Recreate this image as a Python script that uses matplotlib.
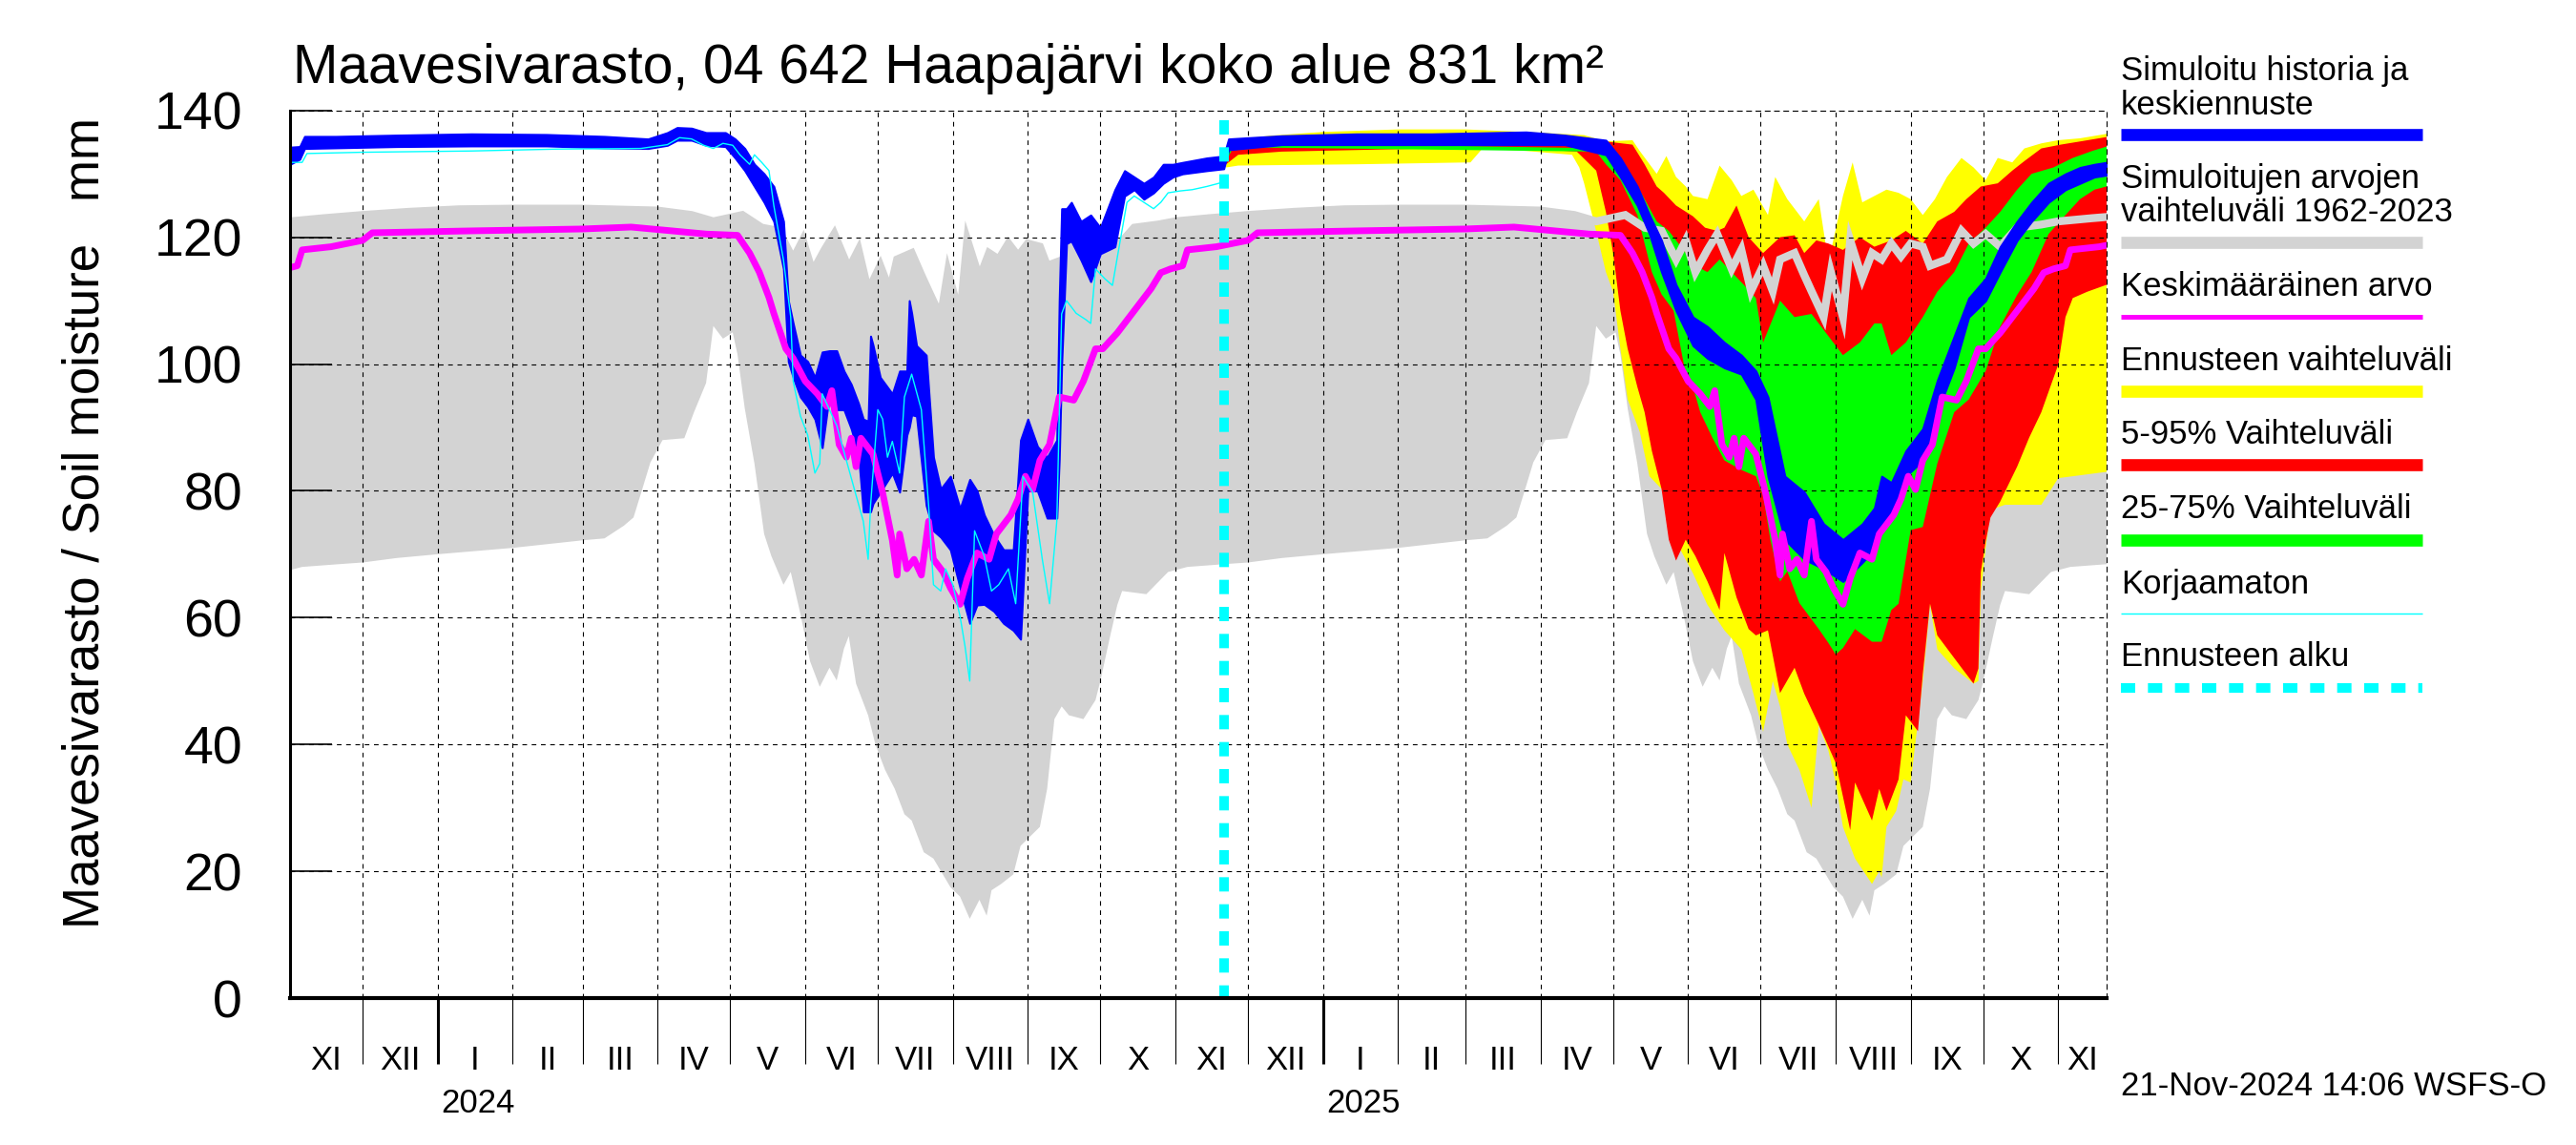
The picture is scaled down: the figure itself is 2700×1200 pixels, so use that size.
import matplotlib
matplotlib.use('Agg')
import matplotlib.pyplot as plt
import matplotlib.dates as mdates
import matplotlib.transforms as mtrans
from matplotlib.lines import Line2D
import numpy as np
import pandas as pd

plt.rcParams['font.family'] = ['Liberation Sans', 'DejaVu Sans']
plt.rcParams['lines.scale_dashes'] = False

# ---------------- texts ----------------
TITLE = 'Maavesivarasto, 04 642 Haapajärvi koko alue 831 km²'
YLABEL = 'Maavesivarasto / Soil moisture   mm'
STAMP = '21-Nov-2024 14:06 WSFS-O'
ROMAN = ['I', 'II', 'III', 'IV', 'V', 'VI', 'VII', 'VIII', 'IX', 'X', 'XI', 'XII']
X_START, X_END = '2023-11-01', '2025-11-21'
FORECAST_START = '2024-11-21'
Y_TICKS = [0, 20, 40, 60, 80, 100, 120, 140]
SEASONS = [2023, 2024, 2025]

# ---------------- climatology 1962-2023 (by month-day) ----------------
GRAY_LO_MD = ['11-01', '11-06', '11-20', '12-01', '12-15', '01-01', '02-01', '03-01', '03-10', '03-18',
              '03-22', '03-25', '03-29', '04-03', '04-12', '04-16', '04-21', '04-24', '04-28', '05-02',
              '05-04', '05-07', '05-11', '05-15', '05-18', '05-23', '05-26', '05-30', '06-03', '06-07',
              '06-11', '06-14', '06-17', '06-19', '06-22', '06-27', '06-30', '07-04', '07-08', '07-12',
              '07-15', '07-20', '07-24', '07-31', '08-04', '08-08', '08-12', '08-15', '08-17', '08-21',
              '08-26', '08-29', '09-02', '09-06', '09-09', '09-12', '09-15', '09-18', '09-24', '09-29',
              '10-01', '10-05', '10-08', '10-10', '10-20', '10-29']
GRAY_LO_V = [67.5, 68.0, 68.4, 68.7, 69.4, 70.0, 71.0, 72.2, 72.5, 74.5,
             75.8, 79.5, 84.5, 88.0, 88.3, 92.4, 97.0, 106.0, 104.0, 105.0,
             101.5, 93.0, 84.3, 73.2, 69.7, 65.2, 67.2, 60.6, 53.1, 49.1,
             52.1, 50.1, 55.1, 57.1, 49.6, 44.6, 40.0, 36.0, 33.0, 29.0,
             28.0, 23.0, 22.0, 17.5, 16.0, 12.5, 15.5, 13.0, 17.0, 18.0,
             19.5, 24.0, 25.5, 27.0, 33.0, 44.0, 46.0, 44.6, 44.0, 47.0,
             50.0, 57.0, 62.0, 64.2, 63.7, 67.2]

GRAY_HI_MD = ['11-01', '11-15', '12-01', '12-20', '01-10', '02-01', '03-01', '04-01', '04-15', '04-24',
              '05-06', '05-14', '05-21', '05-27', '05-31', '06-04', '06-09', '06-13', '06-19', '06-23',
              '06-27', '07-02', '07-06', '07-09', '07-15', '07-19', '07-22', '07-27', '07-30', '08-04',
              '08-07', '08-12', '08-16', '08-20', '08-24', '08-28', '09-01', '09-06', '09-09', '09-16',
              '09-22', '09-27', '10-02', '10-08', '10-15', '10-25']
GRAY_HI_V = [122.5, 123.0, 123.5, 124.0, 124.4, 124.5, 124.5, 124.2, 123.5, 122.5,
             123.5, 121.5, 121.0, 116.5, 119.5, 114.5, 118.0, 120.5, 115.0, 118.0,
             111.5, 115.5, 111.5, 116.5, 117.5, 114.0, 111.5, 107.4, 114.5, 107.4,
             119.5, 113.5, 117.5, 116.5, 119.0, 117.0, 119.0, 118.5, 115.5, 116.5,
             121.0, 119.0, 120.5, 118.5, 121.5, 122.0]

MEAN_MD = ['11-01', '11-04', '11-06', '11-18', '12-01', '12-05', '01-15', '03-01', '03-21', '04-21',
           '05-04', '05-09', '05-13', '05-17', '05-19', '05-24', '05-27', '06-01', '06-06', '06-10',
           '06-12', '06-15', '06-18', '06-20', '06-22', '06-24', '06-29', '07-03', '07-07', '07-09',
           '07-10', '07-13', '07-16', '07-19', '07-22', '07-24', '07-28', '07-31', '08-04', '08-07',
           '08-11', '08-16', '08-19', '08-25', '08-28', '08-31', '09-03', '09-06', '09-10', '09-14',
           '09-20', '09-24', '09-29', '10-02', '10-08', '10-15', '10-22', '10-26', '10-30']
MEAN_V = [115.2, 115.5, 118.0, 118.5, 119.5, 120.7, 121.0, 121.3, 121.6, 120.5,
          120.3, 117.5, 114.5, 110.5, 108.0, 102.4, 100.9, 97.3, 95.3, 93.3,
          95.8, 87.3, 85.3, 88.3, 83.8, 88.3, 85.8, 79.7, 72.2, 66.7,
          73.2, 67.7, 69.2, 66.7, 75.2, 69.2, 67.2, 64.7, 62.1, 66.2,
          70.2, 69.2, 73.2, 76.2, 78.7, 82.3, 80.2, 84.8, 87.3, 94.8,
          94.3, 97.3, 102.4, 102.4, 104.9, 108.4, 111.9, 114.4, 115.0]

# ---------------- simulated history + median forecast (band) ----------------
BLUE_D = ['2023-11-01', '2023-11-05', '2023-11-07', '2023-11-20', '2023-12-15', '2024-01-15', '2024-02-15',
          '2024-03-10', '2024-03-28', '2024-04-05', '2024-04-09', '2024-04-15', '2024-04-21', '2024-04-29',
          '2024-05-03', '2024-05-07', '2024-05-11', '2024-05-15', '2024-05-19', '2024-05-23', '2024-05-25',
          '2024-05-27', '2024-05-30', '2024-06-02', '2024-06-05', '2024-06-08', '2024-06-11', '2024-06-14',
          '2024-06-17', '2024-06-20', '2024-06-23', '2024-06-25', '2024-06-27', '2024-06-28', '2024-06-29',
          '2024-07-02', '2024-07-07', '2024-07-10', '2024-07-13', '2024-07-14', '2024-07-15', '2024-07-17',
          '2024-07-21', '2024-07-24', '2024-07-27', '2024-07-31', '2024-08-04', '2024-08-08', '2024-08-11',
          '2024-08-14', '2024-08-18', '2024-08-22', '2024-08-26', '2024-08-29', '2024-09-01', '2024-09-05',
          '2024-09-09', '2024-09-13', '2024-09-14', '2024-09-15', '2024-09-17', '2024-09-19', '2024-09-23',
          '2024-09-27', '2024-10-01', '2024-10-07', '2024-10-11', '2024-10-15', '2024-10-19', '2024-10-23',
          '2024-10-27', '2024-10-31', '2024-11-04', '2024-11-14', '2024-11-21', '2024-11-23',
          '2024-12-15', '2025-01-15', '2025-02-15', '2025-03-26', '2025-04-11', '2025-04-28', '2025-05-04',
          '2025-05-11', '2025-05-16', '2025-05-21', '2025-05-27', '2025-06-03', '2025-06-09', '2025-06-16',
          '2025-06-23', '2025-06-29', '2025-07-04', '2025-07-11', '2025-07-19', '2025-07-27', '2025-08-04',
          '2025-08-12', '2025-08-17', '2025-08-20', '2025-08-24', '2025-08-30', '2025-09-06', '2025-09-12',
          '2025-09-19', '2025-09-25', '2025-10-02', '2025-10-08', '2025-10-15', '2025-10-21', '2025-10-28',
          '2025-11-04', '2025-11-10', '2025-11-16', '2025-11-21']
BLUE_LO = [131.5, 132.3, 134.0, 134.1, 134.3, 134.4, 134.4,
           134.1, 134.0, 134.5, 135.3, 135.3, 134.5, 134.3,
           132.5, 130.5, 128.0, 125.5, 122.5, 115.0, 100.4,
           97.9, 94.8, 93.3, 91.3, 86.8, 95.3, 92.8,
           92.8, 89.8, 85.8, 76.7, 76.7, 76.7, 78.0,
           79.8, 82.8, 79.8, 88.8, 90.0, 92.0, 91.8,
           77.7, 73.7, 72.7, 70.7, 64.7, 59.1, 62.0,
           62.1, 61.0, 59.1, 58.0, 56.6, 80.0, 80.0,
           75.7, 75.7, 85.0, 100.0, 119.0, 119.4, 116.4,
           113.0, 117.4, 118.5, 126.5, 127.5, 126.0, 127.0,
           128.5, 129.5, 130.0, 130.5, 130.8, 133.8,
           134.6, 134.6, 134.6, 134.6, 134.6, 133.0, 129.5,
           125.0, 120.5, 114.5, 108.4, 102.9, 100.9, 99.4,
           98.4, 94.4, 82.3, 72.3, 69.2, 67.7, 65.7,
           68.7, 70.7, 74.8, 75.8, 82.3, 84.8, 92.4,
           99.4, 107.4, 110.0, 114.5, 119.5, 122.5, 125.5,
           127.5, 128.5, 129.5, 129.8]
BLUE_HI = [134.2, 134.3, 135.9, 135.9, 136.1, 136.3, 136.2,
           135.9, 135.5, 136.5, 137.3, 137.2, 136.5, 136.5,
           135.5, 134.0, 131.5, 130.0, 128.0, 122.5, 110.0,
           106.4, 101.4, 100.4, 97.9, 101.9, 102.1, 102.1,
           98.9, 96.8, 93.8, 91.3, 91.0, 104.4, 103.0,
           97.9, 95.3, 98.9, 98.9, 110.0, 108.0, 102.9,
           101.4, 85.3, 80.3, 82.3, 77.2, 81.8, 80.0,
           76.2, 73.0, 70.7, 70.7, 88.0, 91.3, 87.0,
           85.3, 88.0, 110.0, 124.5, 124.5, 125.5, 122.5,
           123.5, 121.5, 127.5, 130.5, 129.5, 128.5, 129.5,
           131.5, 131.5, 131.8, 132.5, 132.8, 135.5,
           136.0, 136.3, 136.3, 136.6, 136.1, 135.3, 132.5,
           128.0, 123.5, 119.5, 112.5, 107.4, 105.9, 103.4,
           101.4, 98.9, 94.8, 82.3, 79.8, 74.8, 72.3,
           74.8, 77.3, 82.3, 81.3, 86.3, 89.8, 97.4,
           104.4, 110.4, 113.5, 118.5, 122.5, 125.5, 128.5,
           130.0, 131.0, 131.5, 131.8]

# ---------------- uncorrected (Korjaamaton) ----------------
CYAN_D = ['2023-11-01', '2023-11-06', '2023-11-08', '2023-12-01', '2024-01-15', '2024-02-20', '2024-03-25',
          '2024-04-05', '2024-04-10', '2024-04-15', '2024-04-20', '2024-04-24', '2024-04-28', '2024-05-02',
          '2024-05-05', '2024-05-09', '2024-05-11', '2024-05-14', '2024-05-17', '2024-05-19', '2024-05-23',
          '2024-05-26', '2024-05-27', '2024-05-30', '2024-06-02', '2024-06-05', '2024-06-07', '2024-06-08',
          '2024-06-11', '2024-06-14', '2024-06-18', '2024-06-22', '2024-06-25', '2024-06-27', '2024-06-28',
          '2024-07-01', '2024-07-03', '2024-07-05', '2024-07-07', '2024-07-10', '2024-07-12', '2024-07-15',
          '2024-07-19', '2024-07-22', '2024-07-24', '2024-07-27', '2024-07-29', '2024-08-01', '2024-08-04',
          '2024-08-06', '2024-08-08', '2024-08-10', '2024-08-14', '2024-08-17', '2024-08-20', '2024-08-24',
          '2024-08-27', '2024-08-30', '2024-09-03', '2024-09-07', '2024-09-10', '2024-09-13', '2024-09-15',
          '2024-09-17', '2024-09-21', '2024-09-25', '2024-09-27', '2024-09-29', '2024-10-03', '2024-10-06',
          '2024-10-09', '2024-10-12', '2024-10-15', '2024-10-19', '2024-10-23', '2024-10-26', '2024-10-29',
          '2024-11-03', '2024-11-08', '2024-11-14', '2024-11-19', '2024-11-21']
CYAN_V = [131.8, 131.8, 133.2, 133.4, 133.6, 133.9, 134.0,
          134.6, 135.7, 135.5, 134.5, 134.0, 134.8, 134.5,
          133.0, 131.5, 133.0, 131.8, 130.5, 125.0, 116.4,
          107.4, 97.3, 91.8, 88.8, 82.8, 84.3, 95.3,
          92.8, 90.3, 84.8, 79.3, 75.2, 69.2, 77.7,
          92.8, 91.3, 85.3, 87.8, 82.8, 94.8, 98.4,
          92.8, 77.7, 65.2, 64.2, 67.7, 65.2, 60.2,
          55.6, 50.0, 73.7, 69.7, 64.2, 65.2, 67.7,
          62.2, 82.3, 79.8, 69.2, 62.2, 75.2, 107.9,
          110.0, 108.0, 107.0, 106.4, 115.0, 113.4, 112.4,
          119.0, 125.5, 126.5, 125.5, 124.5, 125.5, 127.0,
          127.3, 127.5, 128.0, 128.5, 129.0]

# ---------------- forecast ranges ----------------
YEL_HI_D = ['2024-11-22', '2024-11-24', '2024-12-10', '2025-01-01', '2025-02-01', '2025-03-01', '2025-03-26',
            '2025-04-19', '2025-04-28', '2025-05-09', '2025-05-12', '2025-05-19', '2025-05-23', '2025-05-27',
            '2025-05-31', '2025-06-03', '2025-06-09', '2025-06-14', '2025-06-19', '2025-06-23', '2025-06-28',
            '2025-07-04', '2025-07-07', '2025-07-12', '2025-07-19', '2025-07-25', '2025-07-29', '2025-08-04',
            '2025-08-08', '2025-08-12', '2025-08-17', '2025-08-22', '2025-08-27', '2025-09-01', '2025-09-06',
            '2025-09-11', '2025-09-16', '2025-09-22', '2025-09-27', '2025-10-02', '2025-10-07', '2025-10-13',
            '2025-10-18', '2025-10-25', '2025-11-01', '2025-11-10', '2025-11-21']
YEL_HI_V = [133.0, 135.3, 136.0, 136.6, 137.0, 137.0, 136.6,
            136.1, 135.1, 135.3, 133.6, 130.0, 132.8, 129.5,
            128.0, 126.5, 126.0, 131.3, 129.0, 126.5, 127.5,
            123.5, 129.5, 126.0, 122.5, 126.0, 116.0, 126.5,
            131.8, 125.5, 126.5, 127.5, 127.0, 126.0, 123.5,
            126.0, 129.5, 132.5, 131.0, 129.0, 132.5, 131.8,
            134.0, 134.8, 135.3, 135.6, 136.3]
YEL_LO_D = ['2024-11-22', '2024-11-27', '2025-01-15', '2025-03-03', '2025-03-08', '2025-03-26', '2025-04-14',
            '2025-04-17', '2025-04-19', '2025-04-23', '2025-04-28', '2025-05-01', '2025-05-04', '2025-05-07',
            '2025-05-12', '2025-05-16', '2025-05-21', '2025-05-24', '2025-05-27', '2025-06-03', '2025-06-09',
            '2025-06-16', '2025-06-23', '2025-06-28', '2025-07-02', '2025-07-06', '2025-07-09', '2025-07-12',
            '2025-07-17', '2025-07-22', '2025-07-25', '2025-07-29', '2025-08-01', '2025-08-04', '2025-08-09',
            '2025-08-16', '2025-08-19', '2025-08-20', '2025-08-22', '2025-08-26', '2025-08-29', '2025-09-01',
            '2025-09-06', '2025-09-09', '2025-09-12', '2025-09-19', '2025-09-27', '2025-09-29', '2025-09-30',
            '2025-10-02', '2025-10-04', '2025-10-10', '2025-10-25', '2025-11-01', '2025-11-21']
YEL_LO_V = [131.0, 131.3, 131.5, 131.8, 134.0, 133.6, 133.0,
            131.0, 128.5, 122.5, 114.5, 111.4, 102.4, 94.4,
            89.3, 82.3, 80.3, 76.0, 72.0, 67.0, 62.0,
            58.0, 55.0, 48.0, 42.0, 50.0, 46.0, 40.0,
            36.0, 30.0, 43.0, 39.0, 34.0, 27.0, 22.0,
            18.0, 20.0, 19.0, 27.0, 29.5, 34.5, 34.0,
            50.0, 62.0, 55.0, 52.0, 49.6, 50.0, 64.0,
            71.0, 77.0, 77.8, 77.8, 82.0, 83.0]

RED_HI_D = ['2024-11-22', '2024-11-25', '2025-03-26', '2025-04-19', '2025-04-28', '2025-05-09', '2025-05-14',
            '2025-05-19', '2025-05-22', '2025-05-27', '2025-06-03', '2025-06-08', '2025-06-13', '2025-06-16',
            '2025-06-21', '2025-06-26', '2025-07-02', '2025-07-09', '2025-07-15', '2025-07-19', '2025-07-24',
            '2025-07-29', '2025-08-04', '2025-08-11', '2025-08-17', '2025-08-24', '2025-08-30', '2025-09-06',
            '2025-09-12', '2025-09-19', '2025-09-24', '2025-09-30', '2025-10-07', '2025-10-13', '2025-10-18',
            '2025-10-25', '2025-11-02', '2025-11-10', '2025-11-21']
RED_HI_V = [132.5, 135.3, 135.6, 135.6, 135.1, 134.6, 131.5,
            128.0, 127.0, 125.0, 123.3, 121.5, 121.0, 121.5,
            125.0, 120.0, 117.5, 120.0, 120.3, 117.5, 119.5,
            119.0, 118.0, 120.0, 118.5, 119.5, 121.0, 119.0,
            122.5, 124.0, 126.0, 128.0, 128.5, 130.5, 132.0,
            134.0, 134.6, 135.1, 135.8]
RED_LO_D = ['2024-11-22', '2024-11-27', '2024-12-15', '2025-02-15', '2025-03-26', '2025-04-16', '2025-04-24',
            '2025-04-28', '2025-05-01', '2025-05-04', '2025-05-07', '2025-05-11', '2025-05-14', '2025-05-17',
            '2025-05-21', '2025-05-24', '2025-05-27', '2025-05-31', '2025-06-04', '2025-06-09', '2025-06-14',
            '2025-06-16', '2025-06-21', '2025-06-26', '2025-06-29', '2025-07-04', '2025-07-09', '2025-07-15',
            '2025-07-19', '2025-07-25', '2025-08-01', '2025-08-07', '2025-08-09', '2025-08-16', '2025-08-19',
            '2025-08-22', '2025-08-27', '2025-08-30', '2025-09-04', '2025-09-06', '2025-09-09', '2025-09-12',
            '2025-09-22', '2025-09-27', '2025-09-29', '2025-09-30', '2025-10-02', '2025-10-04', '2025-10-08',
            '2025-10-15', '2025-10-20', '2025-10-25', '2025-11-01', '2025-11-04', '2025-11-07', '2025-11-13',
            '2025-11-21']
RED_LO_V = [131.5, 133.0, 133.5, 134.0, 134.0, 133.5, 130.5,
            124.0, 117.5, 108.4, 102.4, 96.4, 92.4, 86.3,
            80.3, 72.3, 69.0, 72.3, 69.7, 65.7, 61.2,
            70.2, 63.2, 58.2, 57.2, 58.0, 48.1, 52.1,
            48.0, 43.1, 37.1, 26.5, 34.0, 28.0, 33.0,
            29.5, 34.5, 44.6, 42.1, 51.1, 62.2, 57.2,
            52.1, 49.6, 52.0, 67.2, 72.0, 75.8, 78.3,
            83.8, 88.4, 92.4, 99.9, 107.4, 110.4, 111.4,
            112.5]

GRN_HI_D = ['2024-11-22', '2024-11-25', '2025-04-28', '2025-05-04', '2025-05-09', '2025-05-14', '2025-05-19',
            '2025-05-24', '2025-05-31', '2025-06-04', '2025-06-09', '2025-06-14', '2025-06-19', '2025-06-24',
            '2025-06-29', '2025-07-02', '2025-07-09', '2025-07-15', '2025-07-22', '2025-07-29', '2025-08-04',
            '2025-08-11', '2025-08-17', '2025-08-20', '2025-08-24', '2025-08-30', '2025-09-06', '2025-09-12',
            '2025-09-19', '2025-09-25', '2025-10-02', '2025-10-08', '2025-10-15', '2025-10-21', '2025-10-30',
            '2025-11-07', '2025-11-15', '2025-11-21']
GRN_HI_V = [133.0, 135.0, 134.0, 132.5, 129.5, 126.0, 122.5,
            121.0, 117.5, 115.5, 114.5, 116.5, 114.5, 112.5,
            110.4, 103.4, 110.0, 107.4, 107.9, 104.4, 101.4,
            103.4, 106.4, 106.4, 101.4, 103.4, 107.4, 111.4,
            114.5, 119.0, 121.5, 124.0, 127.5, 130.0, 131.0,
            132.5, 133.6, 134.3]
GRN_LO_D = ['2024-11-22', '2024-11-25', '2025-04-24', '2025-04-28', '2025-05-04', '2025-05-11', '2025-05-14',
            '2025-05-17', '2025-05-21', '2025-05-26', '2025-05-31', '2025-06-03', '2025-06-06', '2025-06-11',
            '2025-06-16', '2025-06-23', '2025-06-29', '2025-07-02', '2025-07-05', '2025-07-09', '2025-07-12',
            '2025-07-17', '2025-07-25', '2025-07-29', '2025-08-01', '2025-08-04', '2025-08-09', '2025-08-16',
            '2025-08-20', '2025-08-24', '2025-08-27', '2025-09-01', '2025-09-06', '2025-09-12', '2025-09-19',
            '2025-09-25', '2025-10-02', '2025-10-08', '2025-10-15', '2025-10-21', '2025-10-28', '2025-11-04',
            '2025-11-10', '2025-11-16', '2025-11-21']
GRN_LO_V = [132.0, 134.2, 133.5, 131.5, 129.0, 123.5, 119.0,
            114.5, 111.0, 108.4, 98.4, 96.4, 92.4, 88.4,
            84.8, 83.3, 82.3, 79.3, 72.3, 65.7, 67.3,
            62.3, 58.2, 56.0, 54.2, 55.2, 58.2, 56.2,
            56.2, 61.2, 62.2, 73.8, 74.3, 84.3, 92.4,
            94.4, 98.9, 105.9, 110.9, 114.5, 120.5, 123.5,
            126.0, 127.5, 128.0]

# ---------------- legend ----------------
LEGEND_TEXT = [('Simuloitu historia ja', 0.9300), ('keskiennuste', 0.9000),
               ('Simuloitujen arvojen', 0.8361), ('vaihteluväli 1962-2023', 0.8069),
               ('Keskimääräinen arvo', 0.7417), ('Ennusteen vaihteluväli', 0.6764),
               ('5-95% Vaihteluväli', 0.6125), ('25-75% Vaihteluväli', 0.5472),
               ('Korjaamaton', 0.4819), ('Ennusteen alku', 0.4181)]

BLUE = '#0000FF'; GRAY = '#D3D3D3'; MAGENTA = '#FF00FF'; YELLOW = '#FFFF00'
RED = '#FF0000'; GREEN = '#00FF00'; CYAN = '#00FFFF'


def d2n(ds):
    return mdates.date2num(pd.to_datetime(ds))


def clim(mds, vals):
    xs, ys = [], []
    for y0 in SEASONS:
        for md, v in zip(mds, vals):
            yr = y0 if int(md[:2]) >= 11 else y0 + 1
            xs.append(f'{yr}-{md}')
            ys.append(v)
    return d2n(xs), np.array(ys)


def band(ax, hd, hv, ld, lv, color, z):
    hx, lx = d2n(hd), d2n(ld)
    ax.fill(np.r_[hx, lx[::-1]], np.r_[np.array(hv), np.array(lv)[::-1]],
            color=color, lw=0, zorder=z)


fig = plt.figure(figsize=(27, 12), dpi=100)
ax = fig.add_axes([0.11259, 0.12833, 0.70519, 0.77525])

# gray climatological range
ghx, ghy = clim(GRAY_HI_MD, GRAY_HI_V)
glx, gly = clim(GRAY_LO_MD, GRAY_LO_V)
ax.fill(np.r_[ghx, glx[::-1]], np.r_[ghy, gly[::-1]], color=GRAY, lw=0, zorder=1)

# forecast ranges
band(ax, YEL_HI_D, YEL_HI_V, YEL_LO_D, YEL_LO_V, YELLOW, 1.1)
band(ax, RED_HI_D, RED_HI_V, RED_LO_D, RED_LO_V, RED, 1.2)
band(ax, GRN_HI_D, GRN_HI_V, GRN_LO_D, GRN_LO_V, GREEN, 1.3)

# upper edge of climatology as line
ax.plot(ghx, ghy, color=GRAY, lw=6, zorder=1.4, solid_joinstyle='miter')

# blue band
bx = d2n(BLUE_D)
ax.fill_between(bx, BLUE_LO, BLUE_HI, color=BLUE, lw=1.5, edgecolor=BLUE, zorder=2)

# mean
mx, my = clim(MEAN_MD, MEAN_V)
ax.plot(mx, my, color=MAGENTA, lw=5, zorder=2.2)

# uncorrected
ax.plot(d2n(CYAN_D), CYAN_V, color=CYAN, lw=1.0, zorder=2.3)

# forecast start
fs = d2n([FORECAST_START])[0]
ax.plot([fs, fs], [138.4, 0], color=CYAN, lw=7.2, dashes=(10.8, 9.6), zorder=3,
        solid_capstyle='butt', dash_capstyle='butt')

# axes
x0, x1 = d2n([X_START, X_END])
ax.set_xlim(x0, x1)
ax.set_ylim(0, 140)
ax.set_yticks(Y_TICKS)
ax.tick_params(axis='y', direction='in', length=32, width=1.2, labelsize=40, pad=36)

month_starts = pd.date_range('2023-12-01', '2025-11-01', freq='MS')
jan_starts = [m for m in month_starts if m.month == 1]
ax.set_xticks(mdates.date2num(jan_starts))
ax.set_xticks(mdates.date2num(month_starts), minor=True)
ax.tick_params(axis='x', which='major', direction='out', length=50, width=2.2, labelbottom=False)
ax.tick_params(axis='x', which='minor', direction='out', length=50, width=0.8, labelbottom=False)

ax.set_axisbelow('line')
ax.grid(True, axis='x', which='both', color='black', lw=0.8, linestyle=(0, (3.5, 3.5)))
ax.grid(True, axis='y', which='major', color='black', lw=0.8, linestyle=(0, (3.5, 3.5)))

for s in ['top', 'right']:
    ax.spines[s].set_linestyle((0, (3.5, 3.5)))
    ax.spines[s].set_linewidth(0.8)
ax.spines['left'].set_linewidth(2.2)
ax.spines['bottom'].set_linewidth(3.0)
for s in ax.spines.values():
    s.set_zorder(4)

# month / year labels
bt = mtrans.blended_transform_factory(ax.transData, fig.transFigure)
xend = pd.Timestamp(X_END)
for m in pd.date_range('2023-11-01', '2025-11-01', freq='MS'):
    nxt = min(m + pd.offsets.MonthBegin(1), xend)
    mid = m + (nxt - m) / 2
    ax.text(mdates.date2num(mid), 0.0661, ROMAN[m.month - 1], transform=bt,
            ha='center', va='baseline', fontsize=25)
for j in jan_starts:
    ax.text(mdates.date2num(j + pd.Timedelta(days=1.3)), 0.0286, str(j.year), transform=bt,
            ha='left', va='baseline', fontsize=25)

fig.text(0.8233, 0.0430, STAMP, ha='left', va='baseline', fontsize=25)
fig.text(0.1137, 0.9273, TITLE, ha='left', va='baseline', fontsize=41)
fig.text(0.0333, 0.543, YLABEL, rotation=90, ha='center', va='center', fontsize=38)

# legend
lx0, lx1 = 0.8233, 0.9404
for txt, yb in LEGEND_TEXT:
    fig.text(lx0, yb, txt, ha='left', va='baseline', fontsize=25)
leg_lines = [(0.8823, BLUE, 9.1, None), (0.7883, GRAY, 9.1, None), (0.7233, MAGENTA, 3.6, None),
             (0.6583, YELLOW, 9.1, None), (0.5942, RED, 9.1, None), (0.5283, GREEN, 9.1, None),
             (0.4642, CYAN, 1.0, None), (0.3994, CYAN, 7.2, (10.8, 9.6))]
for y, c, lw, dsh in leg_lines:
    ln = Line2D([lx0, lx1], [y, y], transform=fig.transFigure, color=c, lw=lw,
                solid_capstyle='butt', dash_capstyle='butt')
    if dsh:
        ln.set_dashes(dsh)
    fig.add_artist(ln)

fig.savefig('out.png', dpi=100)
